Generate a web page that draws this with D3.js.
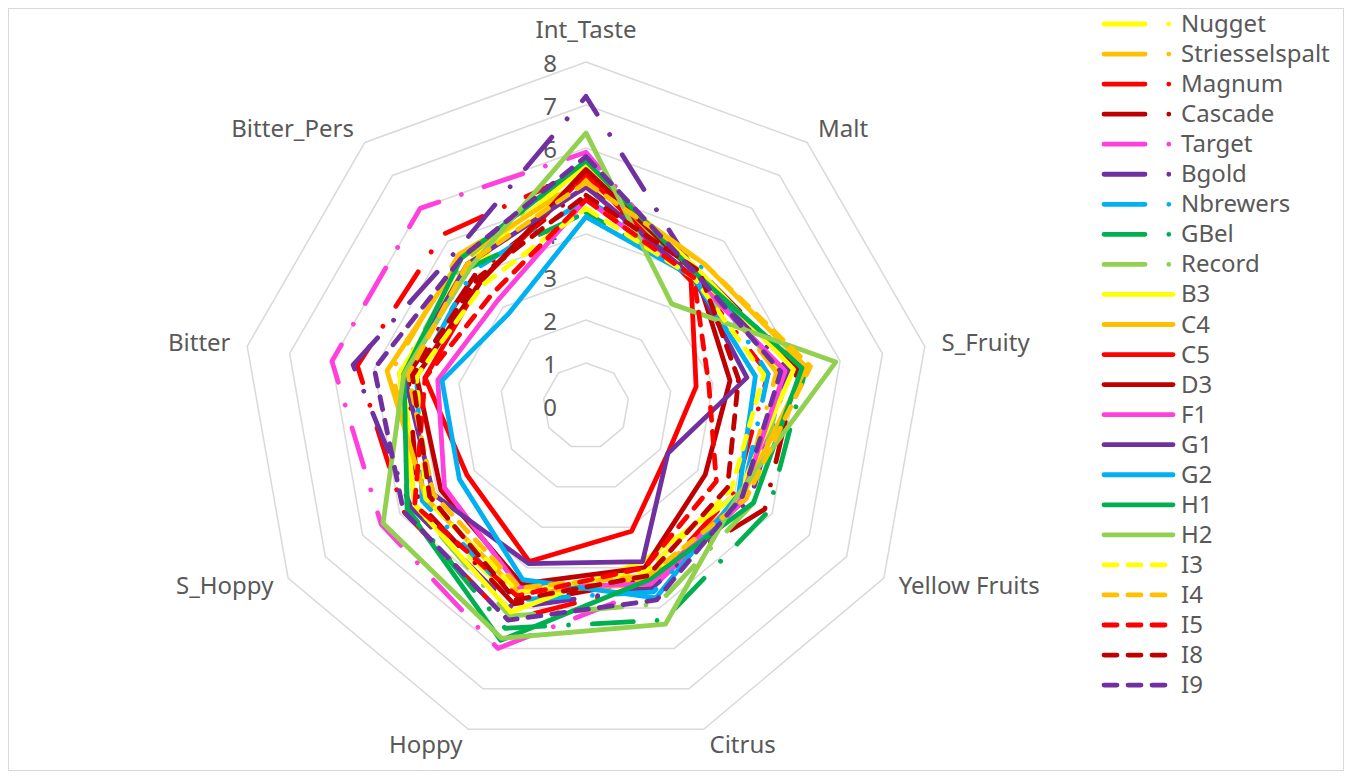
<!DOCTYPE html>
<html><head><meta charset="utf-8">
<script src="https://cdn.jsdelivr.net/npm/d3@7"></script>
<style>
body{margin:0;background:#fff}
text{font-family:"Noto Sans",sans-serif;fill:#595959}
</style></head>
<body><svg id="chart" width="1346" height="778"></svg>
<script>
// ---- data ----
const axes = ["Int_Taste","Malt","S_Fruity","Yellow Fruits","Citrus","Hoppy","S_Hoppy","Bitter","Bitter_Pers"];
const tickValues = [0,1,2,3,4,5,6,7,8];
const seriesNames = ["Nugget","Striesselspalt","Magnum","Cascade","Target","Bgold","Nbrewers","GBel","Record",
  "B3","C4","C5","D3","F1","G1","G2","H1","H2","I3","I4","I5","I8","I9"];
const seriesColors = ["#FFFF00","#FFC000","#FF0000","#C00000","#FF40DC","#7030A0","#00B0F0","#00B050","#92D050",
  "#FFFF00","#FFC000","#FF0000","#C00000","#FF40DC","#7030A0","#00B0F0","#00B050","#92D050",
  "#FFFF00","#FFC000","#FF0000","#C00000","#7030A0"];
const seriesStyles = ["ldd","ldd","ldd","ldd","ldd","ldd","ldd","ldd","ldd",
  "solid","solid","solid","solid","solid","solid","solid","solid","solid",
  "dash","dash","dash","dash","dash"];
// values: Int_Taste, Malt, S_Fruity, Yellow Fruits, Citrus, Hoppy, S_Hoppy, Bitter, Bitter_Pers
const Nugget         = [5.3, 4.0, 4.6, 4.3, 4.2, 4.8, 4.6, 4.3, 4.2];
const Striesselspalt = [5.3, 4.1, 4.5, 4.2, 4.3, 4.6, 4.3, 4.6, 4.6];
const Magnum         = [5.5, 3.9, 4.3, 4.0, 4.4, 5.3, 4.9, 5.4, 5.2];
const Cascade        = [5.1, 4.1, 5.0, 4.8, 4.3, 4.9, 4.5, 4.2, 4.0];
const Target         = [5.9, 3.9, 4.7, 4.3, 4.5, 6.0, 5.5, 6.0, 6.0];
const Bgold          = [7.2, 4.0, 4.8, 4.4, 4.5, 5.0, 4.7, 5.5, 4.7];
const Nbrewers       = [4.8, 4.2, 4.3, 4.2, 4.6, 4.8, 4.4, 4.0, 4.1];
const GBel           = [4.5, 3.9, 5.2, 4.9, 5.3, 5.5, 4.8, 4.3, 4.2];
const Record         = [5.7, 3.8, 4.7, 4.5, 4.9, 5.2, 4.6, 4.4, 4.4];
const B3             = [5.6, 4.1, 4.9, 4.1, 3.85, 5.1, 4.6, 4.4, 4.3];
const C4             = [5.3, 4.3, 5.2, 4.2, 4.4, 4.6, 4.3, 4.7, 4.5];
const C5             = [5.4, 3.8, 2.6, 2.2, 3.1, 3.85, 3.2, 3.8, 3.8];
const D3             = [5.5, 4.0, 3.4, 3.2, 4.0, 4.4, 3.9, 4.0, 3.8];
const F1             = [4.8, 3.9, 4.7, 4.2, 4.4, 4.5, 3.8, 3.5, 3.2];
const G1             = [5.1, 3.9, 3.8, 2.2, 3.85, 3.9, 4.1, 4.3, 4.3];
const G2             = [4.4, 3.9, 4.0, 4.1, 4.75, 4.3, 3.4, 3.4, 2.8];
const H1             = [5.7, 4.0, 5.1, 4.5, 4.3, 5.8, 4.8, 4.3, 4.5];
const H2             = [6.35, 3.1, 5.9, 4.1, 5.4, 5.75, 5.45, 4.3, 4.2];
const I3             = [4.6, 3.9, 4.2, 3.9, 4.1, 4.6, 4.3, 4.0, 3.7];
const I4             = [5.2, 4.3, 5.3, 4.3, 4.2, 4.5, 4.1, 4.2, 4.3];
const I5             = [4.8, 3.9, 2.9, 3.5, 4.0, 4.7, 4.6, 3.8, 3.4];
const I8             = [4.9, 4.1, 3.6, 3.8, 4.2, 4.8, 4.2, 4.1, 3.9];
const I9             = [5.8, 4.0, 4.6, 4.2, 4.8, 5.3, 4.9, 5.0, 4.5];
const seriesValues = [Nugget,Striesselspalt,Magnum,Cascade,Target,Bgold,Nbrewers,GBel,Record,
  B3,C4,C5,D3,F1,G1,G2,H1,H2,I3,I4,I5,I8,I9];

// ---- layout ----
const cx = 586, cy = 406, R = 344;
const svg = d3.select("#chart");
svg.append("rect").attr("x",8.5).attr("y",8.5).attr("width",1335).attr("height",762)
  .attr("fill","#fff").attr("stroke","#d9d9d9").attr("stroke-width",1);

const r = d3.scaleLinear().domain([0,8]).range([0,R]);
const angle = d3.scaleLinear().domain([0, axes.length]).range([0, 2*Math.PI]);
const g = svg.append("g").attr("transform",`translate(${cx},${cy})`);

const radial = d3.lineRadial().angle((d,i)=>angle(i)).radius(d=>r(d)).curve(d3.curveLinearClosed);

// grid
g.append("g").selectAll("path").data(tickValues.filter(v=>v>0)).join("path")
  .attr("d", v => radial(axes.map(()=>v)))
  .attr("fill","none").attr("stroke","#d9d9d9").attr("stroke-width",1.5);

// tick labels
g.append("g").selectAll("text").data(tickValues).join("text")
  .attr("x",-29).attr("y",v=>-r(v))
  .attr("text-anchor","end").attr("dominant-baseline","central")
  .style("font-size","24px").text(v=>v);

// series
const dashFor = s => s==="ldd" ? "41 23.8 0.01 23.8" : s==="dash" ? "13 11" : null;
seriesValues.forEach((vals,k)=>{
  g.append("path").attr("d", radial(vals))
    .attr("fill","none").attr("stroke",seriesColors[k]).attr("stroke-width",4.8)
    .attr("stroke-linejoin","round").attr("stroke-linecap","round")
    .attr("stroke-dasharray", dashFor(seriesStyles[k]))
    .attr("stroke-dashoffset", seriesStyles[k]==="ldd" ? 20 : 0);
});

// axis labels
const labG = g.append("g");
axes.forEach((name,i)=>{
  const a = angle(i);
  const ux = Math.sin(a), uy = -Math.cos(a);
  const t = labG.append("text").style("font-size","24px").attr("dominant-baseline","central")
    .attr("text-anchor","middle").text(name);
  const w = t.node().getComputedTextLength();
  let dx = ux*17, dy = uy*17 - 2;
  if (Math.abs(ux) > 0.05) dx += Math.sign(ux)*w/2; else dy += Math.sign(uy)*15;
  t.attr("x", r(8)*ux + dx).attr("y", r(8)*uy + dy);
});

// legend
const leg = svg.append("g");
seriesNames.forEach((n,k)=>{
  const y = 24 + 30.05*k;
  leg.append("line").attr("x1",1104).attr("x2",1173).attr("y1",y).attr("y2",y)
    .attr("stroke",seriesColors[k]).attr("stroke-width",4.8).attr("stroke-linecap","round")
    .attr("stroke-dasharray", dashFor(seriesStyles[k]));
  leg.append("text").attr("x",1181).attr("y",y-1.5).attr("dominant-baseline","central")
    .style("font-size","24px").text(n);
});
</script></body></html>
